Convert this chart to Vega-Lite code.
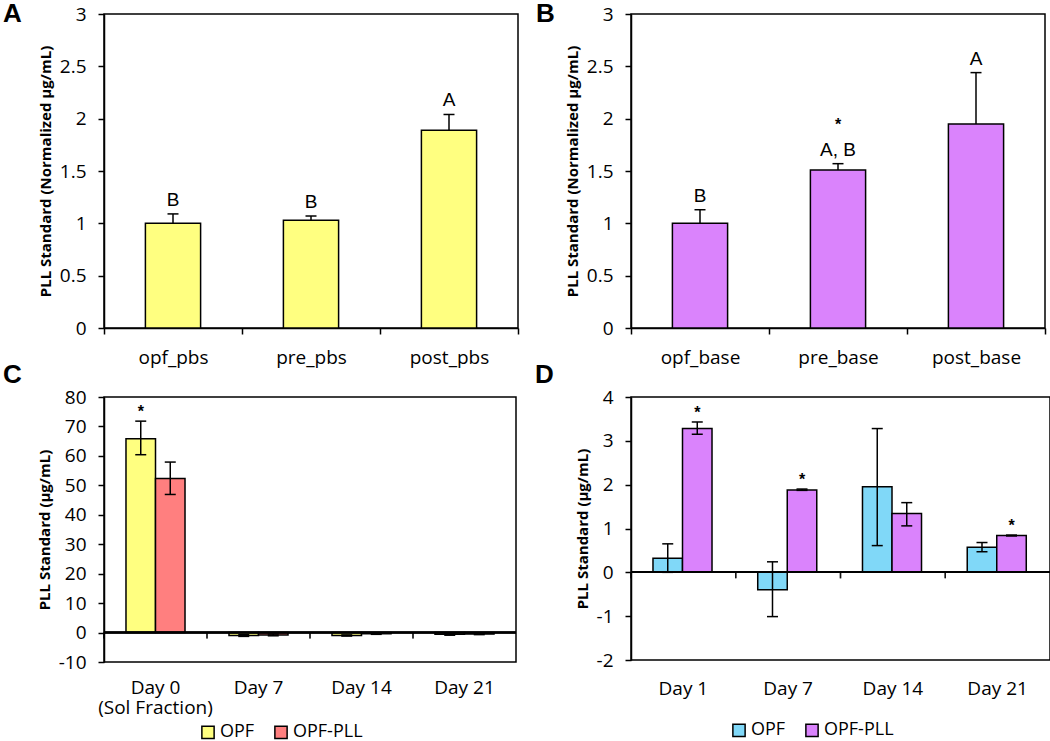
{
  "$schema": "https://vega.github.io/schema/vega-lite/v6.json",
  "background": "white",
  "padding": {"left": 2, "top": 0, "right": 0, "bottom": 0},
  "columns": 2,
  "align": "none",
  "bounds": "flush",
  "spacing": {"row": 69, "column": 113},
  "resolve": {"scale": {"color": "independent"}, "legend": {"color": "independent"}},
  "config": {
    "view": {"stroke": "black", "strokeWidth": 1.5},
    "axis": {"domainColor": "black", "domainWidth": 1.5, "tickColor": "black", "tickWidth": 1.5, "tickSize": 6, "labelColor": "black", "labelFont": "Open Sans", "labelFontSize": 19, "labelOverlap": false, "labelSeparation": 0, "titleColor": "black", "titleFont": "Open Sans", "titleFontWeight": "bold", "titleFontSize": 15, "grid": false},
    "axisY": {"labelOverlap": false},
    "axisQuantitative": {"labelOverlap": false},
    "title": {"font": "Liberation Sans", "fontSize": 26, "fontWeight": "bold", "color": "black", "anchor": "start", "frame": "group", "baseline": "alphabetic"},
    "legend": {"labelFont": "Open Sans", "labelFontSize": 18, "labelColor": "black", "symbolType": "square", "symbolSize": 150, "symbolStrokeColor": "black", "symbolStrokeWidth": 1.5, "symbolOpacity": 1, "columnPadding": 16, "labelOffset": 3}
  },
  "datasets": {
    "panelA": [
      {"cond": "opf_pbs", "value": 1.0, "hi": 1.09, "label": "B"},
      {"cond": "pre_pbs", "value": 1.03, "hi": 1.07, "label": "B"},
      {"cond": "post_pbs", "value": 1.89, "hi": 2.04, "label": "A"}
    ],
    "panelB": [
      {"cond": "opf_base", "value": 1.0, "hi": 1.13, "label": "B", "star": ""},
      {"cond": "pre_base", "value": 1.51, "hi": 1.57, "label": "A, B", "star": "*"},
      {"cond": "post_base", "value": 1.95, "hi": 2.44, "label": "A", "star": ""}
    ],
    "panelC": [
      {"day": "Day 0", "grp": "OPF", "value": 65.8, "lo": 60.4, "hi": 71.8, "star": "*"},
      {"day": "Day 0", "grp": "OPF-PLL", "value": 52.3, "lo": 46.9, "hi": 57.9, "star": ""},
      {"day": "Day 7", "grp": "OPF", "value": -1.0, "lo": -1.3, "hi": -0.7, "star": ""},
      {"day": "Day 7", "grp": "OPF-PLL", "value": -0.8, "lo": -1.1, "hi": -0.5, "star": ""},
      {"day": "Day 14", "grp": "OPF", "value": -1.0, "lo": -1.2, "hi": -0.8, "star": ""},
      {"day": "Day 14", "grp": "OPF-PLL", "value": -0.4, "lo": -0.6, "hi": -0.2, "star": ""},
      {"day": "Day 21", "grp": "OPF", "value": -0.6, "lo": -0.9, "hi": -0.3, "star": ""},
      {"day": "Day 21", "grp": "OPF-PLL", "value": -0.5, "lo": -0.7, "hi": -0.3, "star": ""}
    ],
    "panelD": [
      {"day": "Day 1", "grp": "OPF", "value": 0.32, "lo": 0.0, "hi": 0.65, "star": ""},
      {"day": "Day 1", "grp": "OPF-PLL", "value": 3.28, "lo": 3.15, "hi": 3.43, "star": "*"},
      {"day": "Day 7", "grp": "OPF", "value": -0.4, "lo": -1.01, "hi": 0.24, "star": ""},
      {"day": "Day 7", "grp": "OPF-PLL", "value": 1.88, "lo": 1.87, "hi": 1.9, "star": "*"},
      {"day": "Day 14", "grp": "OPF", "value": 1.95, "lo": 0.61, "hi": 3.28, "star": ""},
      {"day": "Day 14", "grp": "OPF-PLL", "value": 1.34, "lo": 1.06, "hi": 1.59, "star": ""},
      {"day": "Day 21", "grp": "OPF", "value": 0.57, "lo": 0.47, "hi": 0.68, "star": ""},
      {"day": "Day 21", "grp": "OPF-PLL", "value": 0.84, "lo": 0.83, "hi": 0.85, "star": "*"}
    ]
  },
  "concat": [
    {
      "width": 414, "height": 314,
      "title": {"text": "A", "dx": -101, "offset": -22},
      "data": {"name": "panelA"},
      "encoding": {
        "x": {"field": "cond", "type": "nominal", "sort": null, "scale": {"paddingInner": 0, "paddingOuter": 0}, "axis": {"title": null, "labelAngle": 0, "tickBand": "extent", "labelPadding": 14}}
      },
      "layer": [
        {"mark": {"type": "bar", "fill": "#FFFF80", "stroke": "black", "strokeWidth": 1.5, "width": {"band": 0.4}},
         "encoding": {"y": {"field": "value", "type": "quantitative", "scale": {"domain": [0, 3]}, "axis": {"title": "PLL Standard (Normalized µg/mL)", "values": [0, 0.5, 1, 1.5, 2, 2.5, 3], "format": ".1~f", "labelOverlap": false, "labelPadding": 12, "titlePadding": 6}}}},
        {"mark": {"type": "rule", "color": "black", "strokeWidth": 1.5},
         "encoding": {"y": {"field": "value", "type": "quantitative"}, "y2": {"field": "hi"}}},
        {"mark": {"type": "tick", "color": "black", "thickness": 1.5, "size": 11, "orient": "horizontal", "opacity": 1},
         "encoding": {"y": {"field": "hi", "type": "quantitative"}}},
        {"mark": {"type": "text", "font": "Liberation Sans", "fontSize": 19, "baseline": "alphabetic", "dy": -8, "color": "black"},
         "encoding": {"y": {"field": "hi", "type": "quantitative"}, "text": {"field": "label"}}}
      ]
    },
    {
      "width": 414, "height": 314,
      "title": {"text": "B", "dx": -95, "offset": -22},
      "data": {"name": "panelB"},
      "encoding": {
        "x": {"field": "cond", "type": "nominal", "sort": null, "scale": {"paddingInner": 0, "paddingOuter": 0}, "axis": {"title": null, "labelAngle": 0, "tickBand": "extent", "labelPadding": 14}}
      },
      "layer": [
        {"mark": {"type": "bar", "fill": "#DA83FC", "stroke": "black", "strokeWidth": 1.5, "width": {"band": 0.4}},
         "encoding": {"y": {"field": "value", "type": "quantitative", "scale": {"domain": [0, 3]}, "axis": {"title": "PLL Standard (Normalized µg/mL)", "values": [0, 0.5, 1, 1.5, 2, 2.5, 3], "format": ".1~f", "labelOverlap": false, "labelPadding": 12, "titlePadding": 6}}}},
        {"mark": {"type": "rule", "color": "black", "strokeWidth": 1.5},
         "encoding": {"y": {"field": "value", "type": "quantitative"}, "y2": {"field": "hi"}}},
        {"mark": {"type": "tick", "color": "black", "thickness": 1.5, "size": 11, "orient": "horizontal", "opacity": 1},
         "encoding": {"y": {"field": "hi", "type": "quantitative"}}},
        {"mark": {"type": "text", "font": "Liberation Sans", "fontSize": 19, "baseline": "alphabetic", "dy": -8, "color": "black"},
         "encoding": {"y": {"field": "hi", "type": "quantitative"}, "text": {"field": "label"}}},
        {"mark": {"type": "text", "font": "Liberation Sans", "fontSize": 16, "fontWeight": "bold", "baseline": "alphabetic", "dy": -34, "color": "black"},
         "encoding": {"y": {"field": "hi", "type": "quantitative"}, "text": {"field": "star"}}}
      ]
    },
    {
      "width": 412, "height": 265,
      "title": {"text": "C", "dx": -101, "offset": 0},
      "data": {"name": "panelC"},
      "layer": [
        {"mark": {"type": "bar", "stroke": "black", "strokeWidth": 1.5},
         "encoding": {
           "x": {"field": "day", "type": "nominal", "sort": null, "scale": {"paddingInner": 0, "paddingOuter": 0}, "axis": {"title": null, "labelAngle": 0, "ticks": false, "domain": false, "labelPadding": 16, "labelLineHeight": 20, "labelExpr": "datum.value == 'Day 0' ? ['Day 0', '(Sol Fraction)'] : datum.value"}},
           "xOffset": {"field": "grp", "type": "nominal", "sort": null, "scale": {"paddingInner": 0, "paddingOuter": 0.745}},
           "y": {"field": "value", "type": "quantitative", "scale": {"domain": [-10, 80]}, "axis": {"title": "PLL Standard (µg/mL)", "values": [-10, 0, 10, 20, 30, 40, 50, 60, 70, 80], "tickCount": 10, "labelOverlap": false, "labelSeparation": 0, "labelFontSize": 19, "labelExpr": "datum.value + ''", "labelPadding": 12, "titlePadding": 6}},
           "color": {"field": "grp", "type": "nominal", "sort": null, "scale": {"domain": ["OPF", "OPF-PLL"], "range": ["#FFFF80", "#FF7F7F"]}, "legend": {"orient": "none", "legendX": 95, "legendY": 326, "direction": "horizontal", "title": null}}
         }},
        {"mark": {"type": "rule", "color": "black", "strokeWidth": 1.5},
         "encoding": {"y": {"datum": 0, "type": "quantitative"}}},
        {"mark": {"type": "tick", "color": "black", "thickness": 1.5, "size": 6, "orient": "vertical", "yOffset": 3},
         "encoding": {
           "x": {"field": "day", "type": "nominal", "sort": null, "bandPosition": 0},
           "y": {"datum": 0, "type": "quantitative"}}},
        {"mark": {"type": "rule", "color": "black", "strokeWidth": 1.5},
         "encoding": {
           "x": {"field": "day", "type": "nominal", "sort": null},
           "xOffset": {"field": "grp", "type": "nominal", "sort": null},
           "y": {"field": "lo", "type": "quantitative"}, "y2": {"field": "hi"}}},
        {"mark": {"type": "tick", "color": "black", "thickness": 1.5, "size": 11, "orient": "horizontal", "opacity": 1},
         "encoding": {
           "x": {"field": "day", "type": "nominal", "sort": null},
           "xOffset": {"field": "grp", "type": "nominal", "sort": null},
           "y": {"field": "hi", "type": "quantitative"}}},
        {"mark": {"type": "tick", "color": "black", "thickness": 1.5, "size": 11, "orient": "horizontal", "opacity": 1},
         "encoding": {
           "x": {"field": "day", "type": "nominal", "sort": null},
           "xOffset": {"field": "grp", "type": "nominal", "sort": null},
           "y": {"field": "lo", "type": "quantitative"}}},
        {"mark": {"type": "text", "font": "Liberation Sans", "fontSize": 16, "fontWeight": "bold", "baseline": "alphabetic", "dy": -4, "color": "black"},
         "encoding": {
           "x": {"field": "day", "type": "nominal", "sort": null},
           "xOffset": {"field": "grp", "type": "nominal", "sort": null},
           "y": {"field": "hi", "type": "quantitative"}, "text": {"field": "star"}}}
      ]
    },
    {
      "width": 419, "height": 263,
      "title": {"text": "D", "dx": -96, "offset": 0},
      "data": {"name": "panelD"},
      "layer": [
        {"mark": {"type": "bar", "stroke": "black", "strokeWidth": 1.5},
         "encoding": {
           "x": {"field": "day", "type": "nominal", "sort": null, "scale": {"paddingInner": 0, "paddingOuter": 0}, "axis": {"title": null, "labelAngle": 0, "ticks": false, "domain": false, "labelPadding": 19}},
           "xOffset": {"field": "grp", "type": "nominal", "sort": null, "scale": {"paddingInner": 0, "paddingOuter": 0.68}},
           "y": {"field": "value", "type": "quantitative", "scale": {"domain": [-2, 4]}, "axis": {"title": "PLL Standard (µg/mL)", "values": [-2, -1, 0, 1, 2, 3, 4], "labelOverlap": false, "labelExpr": "datum.value + ''", "labelPadding": 12, "titlePadding": 6}},
           "color": {"field": "grp", "type": "nominal", "sort": null, "scale": {"domain": ["OPF", "OPF-PLL"], "range": ["#80D8F8", "#DA83FC"]}, "legend": {"orient": "none", "legendX": 99, "legendY": 324, "direction": "horizontal", "title": null}}
         }},
        {"mark": {"type": "rule", "color": "black", "strokeWidth": 1.5},
         "encoding": {"y": {"datum": 0, "type": "quantitative"}}},
        {"mark": {"type": "tick", "color": "black", "thickness": 1.5, "size": 6, "orient": "vertical", "yOffset": 3},
         "encoding": {
           "x": {"field": "day", "type": "nominal", "sort": null, "bandPosition": 0},
           "y": {"datum": 0, "type": "quantitative"}}},
        {"mark": {"type": "rule", "color": "black", "strokeWidth": 1.5},
         "encoding": {
           "x": {"field": "day", "type": "nominal", "sort": null},
           "xOffset": {"field": "grp", "type": "nominal", "sort": null},
           "y": {"field": "lo", "type": "quantitative"}, "y2": {"field": "hi"}}},
        {"mark": {"type": "tick", "color": "black", "thickness": 1.5, "size": 11, "orient": "horizontal", "opacity": 1},
         "encoding": {
           "x": {"field": "day", "type": "nominal", "sort": null},
           "xOffset": {"field": "grp", "type": "nominal", "sort": null},
           "y": {"field": "hi", "type": "quantitative"}}},
        {"mark": {"type": "tick", "color": "black", "thickness": 1.5, "size": 11, "orient": "horizontal", "opacity": 1},
         "encoding": {
           "x": {"field": "day", "type": "nominal", "sort": null},
           "xOffset": {"field": "grp", "type": "nominal", "sort": null},
           "y": {"field": "lo", "type": "quantitative"}}},
        {"mark": {"type": "text", "font": "Liberation Sans", "fontSize": 16, "fontWeight": "bold", "baseline": "alphabetic", "dy": -4, "color": "black"},
         "encoding": {
           "x": {"field": "day", "type": "nominal", "sort": null},
           "xOffset": {"field": "grp", "type": "nominal", "sort": null},
           "y": {"field": "hi", "type": "quantitative"}, "text": {"field": "star"}}}
      ]
    }
  ]
}
